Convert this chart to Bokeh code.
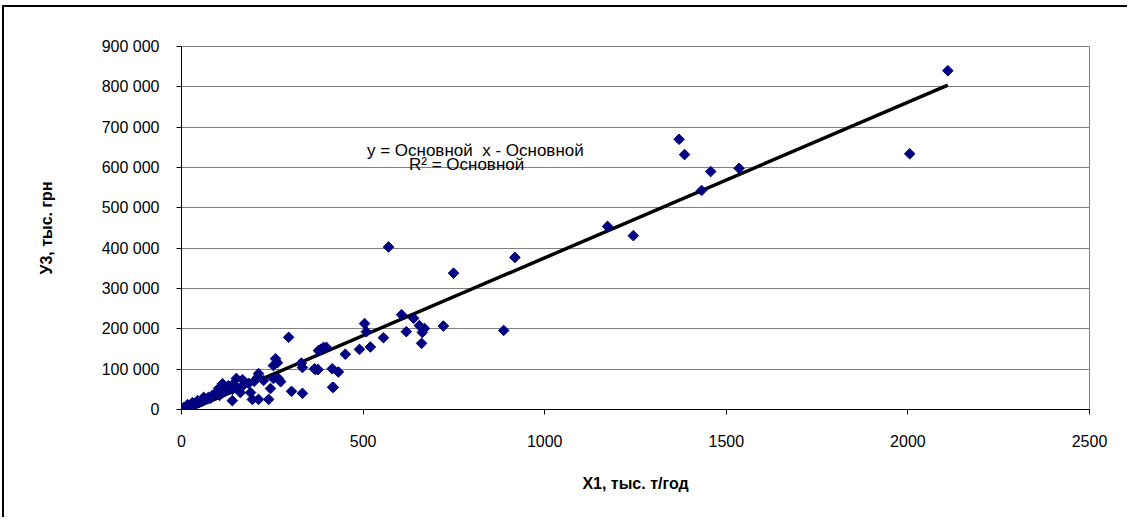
from bokeh.plotting import figure
from bokeh.models import Range1d, FixedTicker, Label
from bokeh.embed import file_html
from bokeh.resources import INLINE

# ---- data ----
x_vals = [2110, 2005, 1535, 1457, 1432, 1370, 1385, 1244, 1173, 918,
          887, 721, 749, 570, 606, 639, 655, 669, 663, 661,
          619, 504, 509, 556, 520, 490, 451, 399, 391, 383,
          377, 369, 376, 366, 415, 432, 416, 418, 333, 330,
          333, 295, 303, 259, 264, 253, 212, 267, 273, 245,
          240, 212, 195, 190, 168, 151, 143, 129, 113, 127,
          140, 140, 162, 113, 94, 74, 61, 58, 44, 30,
          17, 6, 11, 25, 33, 85, 102, 253, 226, 2,
          8, 14, 20, 40, 50, 65, 80, 105, 120, 150,
          170, 185, 200, 210]
y_vals = [840000, 634000, 598000, 590000, 543000, 670000, 632000, 431000, 454000, 377000,
          196000, 207000, 338000, 403000, 235000, 226000, 208000, 201000, 191000, 164000,
          193000, 213000, 193000, 178000, 155000, 149000, 137000, 154000, 154000, 149000,
          146000, 99000, 99000, 101000, 101000, 93000, 55000, 55000, 104000, 115000,
          40000, 179000, 45000, 126000, 116000, 109000, 89000, 77000, 69000, 52000,
          25000, 25000, 25000, 42000, 74000, 77000, 64000, 59000, 64000, 50000,
          50000, 22000, 42000, 42000, 40000, 30000, 30000, 22000, 22000, 17000,
          12000, 5000, 1000, 2500, 10000, 35000, 52000, 77000, 72000, 1000,
          3000, 6000, 8000, 15000, 18000, 25000, 28000, 35000, 45000, 55000,
          60000, 65000, 70000, 80000]

x_ticks = [0, 500, 1000, 1500, 2000, 2500]
x_tick_labels = ["0", "500", "1000", "1500", "2000", "2500"]
y_ticks = [0, 100000, 200000, 300000, 400000, 500000, 600000, 700000, 800000, 900000]
y_tick_labels = ["0", "100 000", "200 000", "300 000", "400 000", "500 000",
                 "600 000", "700 000", "800 000", "900 000"]

trend_slope = 386.0
trend_intercept = -10000

x_title = "X1, тыс. т/год"
y_title = "У3, тыс. грн"
eq_line1 = "y = Основной \u00a0x - Основной"
eq_line2 = "R² = Основной"

FONT = "Liberation Sans"

W, H = 1125, 512
p = figure(width=W, height=H, output_backend="svg", toolbar_location=None,
           x_range=Range1d(0, 2500), y_range=Range1d(0, 900000),
           min_border_left=177, min_border_right=40,
           min_border_top=39, min_border_bottom=110)
p.styles = {"margin-left": "4px", "margin-top": "7px",
            "box-shadow": "-2px -2px 0px 0px black"}

p.background_fill_color = "white"
p.border_fill_color = "white"
p.outline_line_color = "#808080"
p.outline_line_width = 1

p.xgrid.visible = False
p.ygrid.grid_line_color = "#808080"
p.ygrid.grid_line_width = 1
p.ygrid.ticker = FixedTicker(ticks=y_ticks)

p.xaxis.ticker = FixedTicker(ticks=x_ticks)
p.yaxis.ticker = FixedTicker(ticks=y_ticks)
p.xaxis.major_label_overrides = {t: l for t, l in zip(x_ticks, x_tick_labels)}
p.yaxis.major_label_overrides = {t: l for t, l in zip(y_ticks, y_tick_labels)}

for ax in (p.xaxis[0], p.yaxis[0]):
    ax.axis_line_color = "black"
    ax.axis_line_width = 1
    ax.major_tick_line_color = "black"
    ax.major_tick_in = 0
    ax.major_tick_out = 5
    ax.minor_tick_line_color = None
    ax.major_label_text_font = FONT
    ax.major_label_text_font_size = "16px"
    ax.major_label_text_color = "black"
    ax.axis_label_text_font = FONT
    ax.axis_label_text_font_size = "16px"
    ax.axis_label_text_font_style = "bold"
    ax.axis_label_text_color = "black"

p.xaxis.axis_label = x_title
p.yaxis.axis_label = y_title
p.yaxis.major_label_standoff = 17
p.yaxis.axis_label_standoff = 44
p.xaxis.major_label_standoff = 20
p.xaxis.axis_label_standoff = 25

# linear trendline over the data range
x_min, x_max = min(x_vals), max(x_vals)
p.line([x_min, x_max],
       [trend_slope * x_min + trend_intercept, trend_slope * x_max + trend_intercept],
       line_color="black", line_width=3.5)

p.scatter(x_vals, y_vals, marker="square", angle=0.785398, size=7.5,
          fill_color="#000080", line_color="#000080")

p.add_layout(Label(x=809, y=642000, text=eq_line1, text_align="center",
                   text_baseline="middle", text_font=FONT, text_font_size="17px",
                   text_color="black"))
p.add_layout(Label(x=785, y=607000, text=eq_line2, text_align="center",
                   text_baseline="middle", text_font=FONT, text_font_size="17px",
                   text_color="black"))

open("out.html", "w").write(file_html(p, INLINE))
